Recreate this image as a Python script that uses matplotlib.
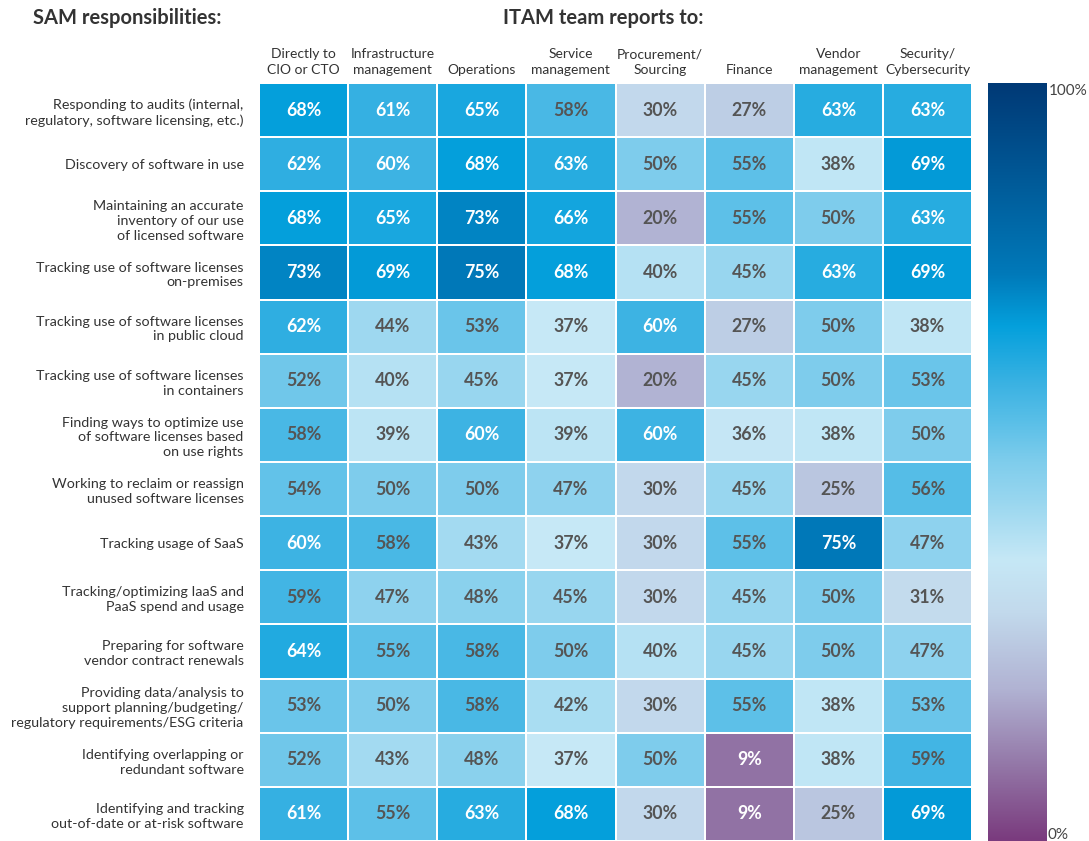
import matplotlib.pyplot as plt
import numpy as np
from matplotlib.colors import LinearSegmentedColormap

plt.rcParams['font.family'] = ['Lato', 'DejaVu Sans']

# ITAM team reporting lines (columns)
teams = ['Directly to\nCIO or CTO', 'Infrastructure\nmanagement', 'Operations',
         'Service\nmanagement', 'Procurement/\nSourcing', 'Finance',
         'Vendor\nmanagement', 'Security/\nCybersecurity']

# SAM responsibilities (rows)
responsibilities = [
    'Responding to audits (internal,\nregulatory, software licensing, etc.)',
    'Discovery of software in use',
    'Maintaining an accurate\ninventory of our use\nof licensed software',
    'Tracking use of software licenses\non-premises',
    'Tracking use of software licenses\nin public cloud',
    'Tracking use of software licenses\nin containers',
    'Finding ways to optimize use\nof software licenses based\non use rights',
    'Working to reclaim or reassign\nunused software licenses',
    'Tracking usage of SaaS',
    'Tracking/optimizing IaaS and\nPaaS spend and usage',
    'Preparing for software\nvendor contract renewals',
    'Providing data/analysis to\nsupport planning/budgeting/\nregulatory requirements/ESG criteria',
    'Identifying overlapping or\nredundant software',
    'Identifying and tracking\nout-of-date or at-risk software',
]

# percentages, one row per responsibility
pct = np.array([
    [68, 61, 65, 58, 30, 27, 63, 63],
    [62, 60, 68, 63, 50, 55, 38, 69],
    [68, 65, 73, 66, 20, 55, 50, 63],
    [73, 69, 75, 68, 40, 45, 63, 69],
    [62, 44, 53, 37, 60, 27, 50, 38],
    [52, 40, 45, 37, 20, 45, 50, 53],
    [58, 39, 60, 39, 60, 36, 38, 50],
    [54, 50, 50, 47, 30, 45, 25, 56],
    [60, 58, 43, 37, 30, 55, 75, 47],
    [59, 47, 48, 45, 30, 45, 50, 31],
    [64, 55, 58, 50, 40, 45, 50, 47],
    [53, 50, 58, 42, 30, 55, 38, 53],
    [52, 43, 48, 37, 50, 9, 38, 59],
    [61, 55, 63, 68, 30, 9, 25, 69],
])

cmap = LinearSegmentedColormap.from_list('itam', [
    (0.00, '#7a3b7e'),
    (0.10, '#9478a8'),
    (0.20, '#b1b3d3'),
    (0.30, '#c2d9ec'),
    (0.37, '#c6e8f6'),
    (0.45, '#98d6ef'),
    (0.50, '#7fcdec'),
    (0.55, '#5cc0e8'),
    (0.60, '#3db3e3'),
    (0.68, '#04a0dc'),
    (0.75, '#0079b9'),
    (1.00, '#003a76'),
])

fig = plt.figure(figsize=(10.89, 8.41), dpi=100)
ax = fig.add_axes([259 / 1089, 0, 713 / 1089, 758 / 841])
cax = fig.add_axes([988 / 1089, 0, 59 / 1089, 758 / 841])

nrows, ncols = pct.shape
mesh = ax.pcolormesh(np.arange(ncols + 1), np.arange(nrows + 1), pct, cmap=cmap,
                     vmin=0, vmax=100, edgecolor='white', linewidth=1.2)
ax.set_xlim(0, ncols)
ax.set_ylim(nrows, 0)

for i in range(nrows):
    for j in range(ncols):
        v = pct[i, j]
        col = 'white' if (v >= 60 or v <= 15) else '#555555'
        ax.text(j + 0.5, i + 0.5, f'{v}%', ha='center', va='center',
                fontsize=12.8, fontweight='bold', color=col)

ax.xaxis.tick_top()
ax.set_xticks(np.arange(ncols) + 0.5)
ax.set_xticklabels(teams, fontsize=10, color='#333333', linespacing=1.4)
ax.set_yticks(np.arange(nrows) + 0.5)
ax.set_yticklabels(responsibilities, fontsize=10.3, color='#333333', linespacing=1.28)
ax.tick_params(length=0)
ax.tick_params(axis='x', pad=5)
ax.tick_params(axis='y', pad=11)
for s in ax.spines.values():
    s.set_visible(False)

# colour scale
grad = np.linspace(0, 1, 256).reshape(-1, 1)
cax.imshow(grad, aspect='auto', cmap=cmap, origin='lower', extent=[0, 1, 0, 1])
cax.set_axis_off()
fig.text(1049 / 1089, 1 - 91 / 841, '100%', ha='left', va='center',
         fontsize=11, color='#444444')
fig.text(1048 / 1089, 1 - 835 / 841, '0%', ha='left', va='center',
         fontsize=11, color='#444444')

fig.text(127 / 1089, 1 - 18 / 841, 'SAM responsibilities:', ha='center', va='center',
         fontsize=14.5, fontweight='bold', color='#333333')
fig.text(603 / 1089, 1 - 18 / 841, 'ITAM team reports to:', ha='center', va='center',
         fontsize=14.5, fontweight='bold', color='#333333')

fig.savefig('out.png', dpi=100)
